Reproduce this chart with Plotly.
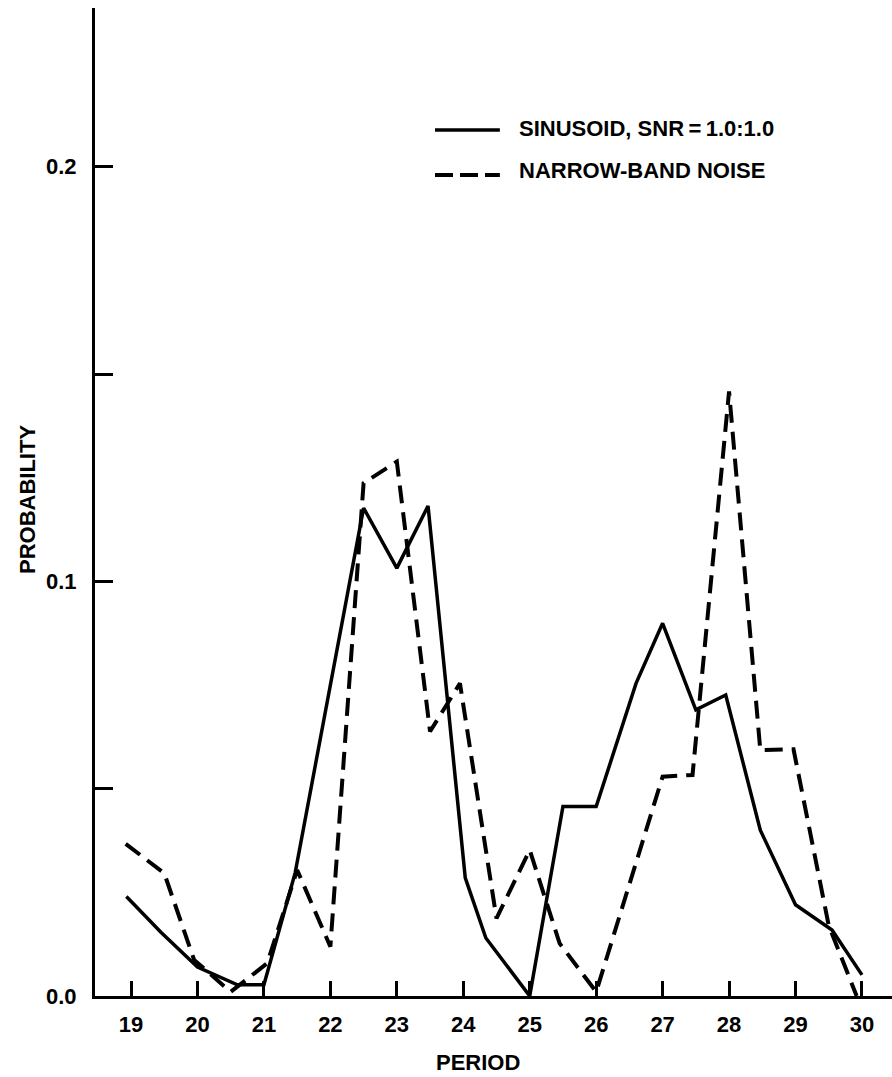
import plotly.graph_objects as go

# ---- data ----
period_ticks = [19, 20, 21, 22, 23, 24, 25, 26, 27, 28, 29, 30]
prob_tickvals = [0.0, 0.05, 0.1, 0.15, 0.2]
prob_ticktext = ["0.0", "", "0.1", "", "0.2"]

sin_period = [18.93, 19.45, 20.0, 20.6, 21.0, 21.47, 22.5, 23.0, 23.47, 24.03, 24.34,
              25.0, 25.5, 26.0, 26.6, 27.0, 27.5, 27.95, 28.47, 29.0, 29.55, 30.0]
sin_prob = [0.024, 0.0154, 0.0070, 0.0027, 0.0027, 0.0297, 0.1177, 0.1032, 0.1182, 0.0285, 0.0140,
            0.0, 0.0457, 0.0457, 0.0754, 0.0899, 0.0690, 0.0726, 0.0400, 0.0220, 0.0159, 0.0051]

nbn_period = [18.92, 19.5, 19.95, 20.5, 21.05, 21.5, 22.0, 22.5, 23.0, 23.5, 23.95,
              24.5, 25.0, 25.45, 26.0, 27.0, 27.45, 28.0, 28.47, 28.97, 29.5, 29.92]
nbn_prob = [0.0367, 0.0296, 0.0087, 0.001, 0.0079, 0.0304, 0.0119, 0.1237, 0.1289, 0.0638, 0.0754,
            0.0187, 0.0352, 0.0127, 0.001, 0.0529, 0.0533, 0.1458, 0.0593, 0.0595, 0.017, 0.0]

legend_labels = ["SINUSOID, SNR\u2009=\u20091.0:1.0", "NARROW-BAND NOISE"]

FONT = "Liberation Sans, Arial, sans-serif"

fig = go.Figure()
fig.add_trace(go.Scatter(x=sin_period, y=sin_prob, mode="lines",
                         line=dict(color="black", width=3.5), name=legend_labels[0],
                         showlegend=False))
fig.add_trace(go.Scatter(x=nbn_period, y=nbn_prob, mode="lines",
                         line=dict(color="black", width=4, dash="18px,9px"), name=legend_labels[1],
                         showlegend=False))

# custom legend (long line samples as in the original)
fig.add_shape(type="line", xref="paper", yref="paper", x0=0.4266, x1=0.508, y0=0.8765, y1=0.8765,
              line=dict(color="black", width=3.5))
fig.add_shape(type="line", xref="paper", yref="paper", x0=0.4266, x1=0.508, y0=0.831, y1=0.831,
              line=dict(color="black", width=4, dash="18px,7px"))
fig.add_annotation(text=legend_labels[0], xref="paper", yref="paper", x=0.5295, y=0.8785,
                   xanchor="left", yanchor="middle", showarrow=False,
                   font=dict(family=FONT, size=22, color="black", weight="bold"))
fig.add_annotation(text=legend_labels[1], xref="paper", yref="paper", x=0.5295, y=0.836,
                   xanchor="left", yanchor="middle", showarrow=False,
                   font=dict(family=FONT, size=22, color="black", weight="bold"))

# axis titles
fig.add_annotation(text="PERIOD", xref="paper", yref="paper", x=0.4806, y=-0.0678,
                   xanchor="center", yanchor="middle", showarrow=False,
                   font=dict(family=FONT, size=22, color="black", weight="bold"))
fig.add_annotation(text="PROBABILITY", xref="paper", yref="paper", x=-0.0853, y=0.502,
                   xanchor="center", yanchor="middle", showarrow=False, textangle=-90,
                   font=dict(family=FONT, size=22, color="black", weight="bold"))

fig.update_layout(
    width=892, height=1077,
    margin=dict(l=95, r=0, t=8, b=81),
    paper_bgcolor="white", plot_bgcolor="white",
    font=dict(family=FONT, color="black"),
    showlegend=False,
)
fig.update_xaxes(range=[18.458, 30.452], tickvals=period_ticks, ticks="inside", ticklen=15,
                 tickwidth=2.5, tickcolor="black", showline=True, linecolor="black", linewidth=3,
                 showgrid=False, zeroline=False,
                 tickfont=dict(family=FONT, size=22, weight="bold"),
                 ticklabelstandoff=7)
fig.update_yaxes(range=[0, 0.2383], tickvals=prob_tickvals, ticktext=prob_ticktext, ticks="inside",
                 ticklen=18, tickwidth=2.5, tickcolor="black", showline=True, linecolor="black",
                 linewidth=3, showgrid=False, zeroline=False,
                 tickfont=dict(family=FONT, size=22, weight="bold"),
                 ticklabelstandoff=11)

fig.write_html("out.html")
